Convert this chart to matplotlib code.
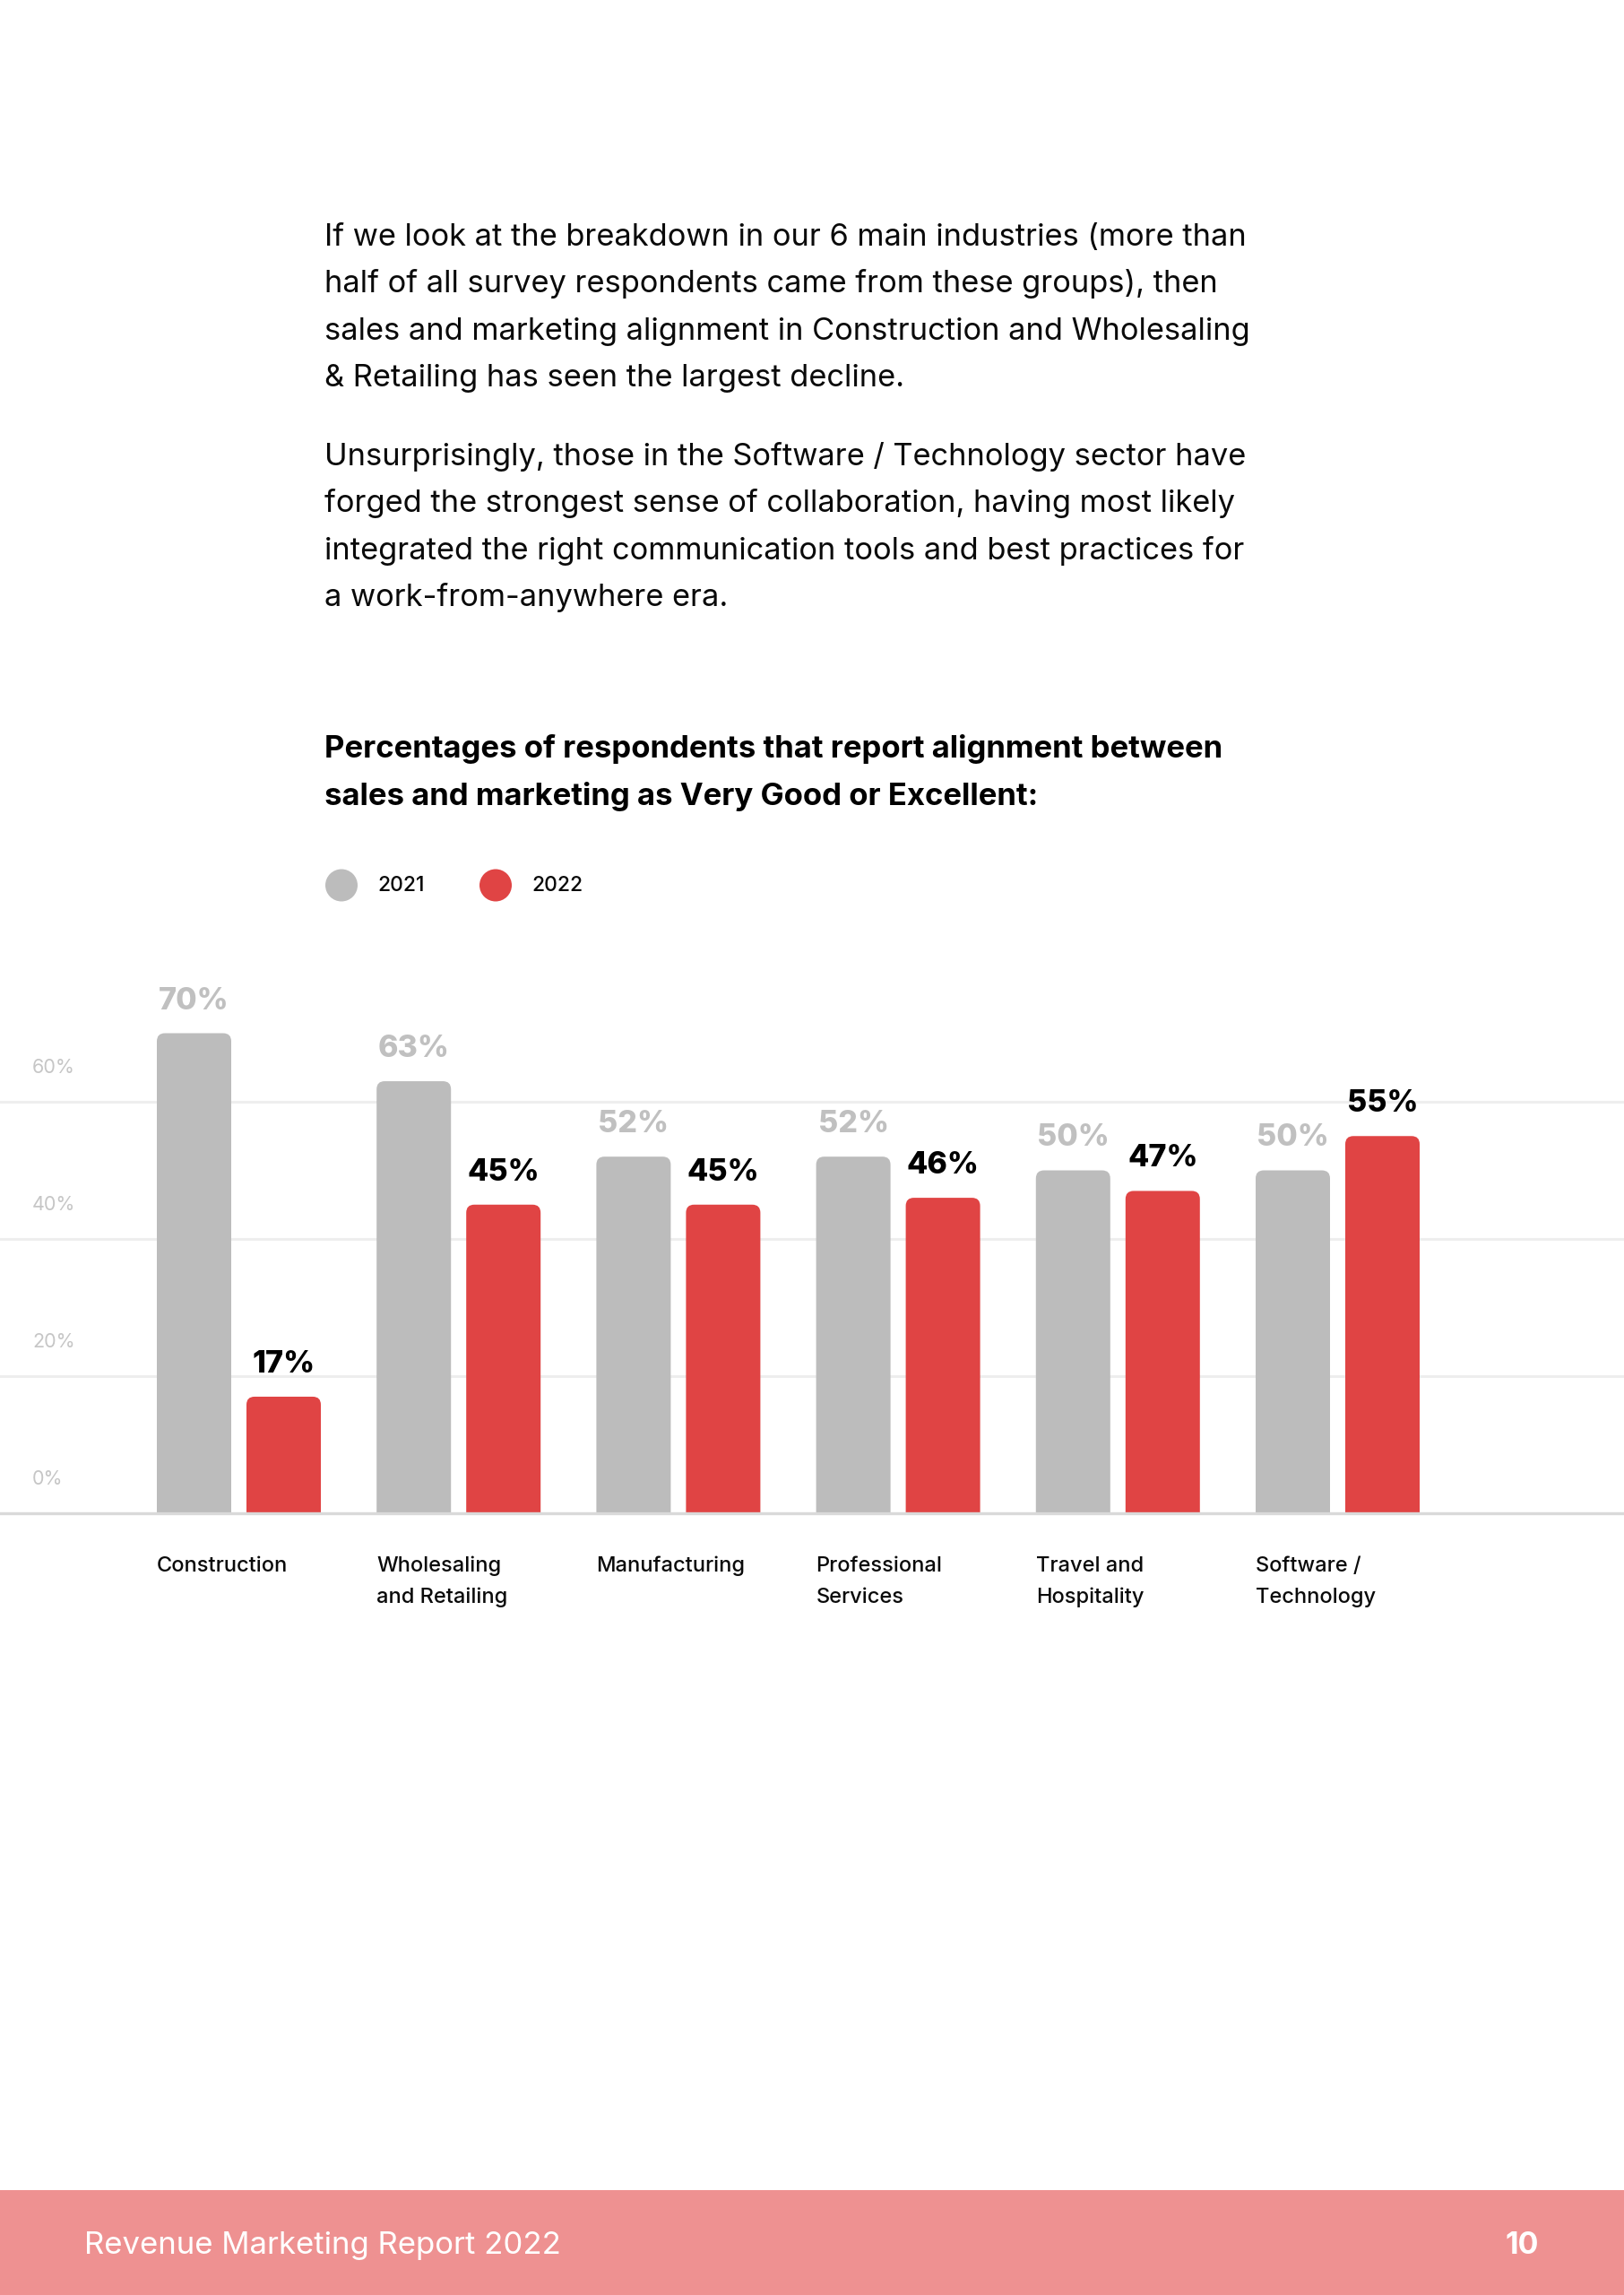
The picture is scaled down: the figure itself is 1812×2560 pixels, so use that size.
import matplotlib
matplotlib.use("Agg")
import matplotlib.pyplot as plt
from matplotlib.patches import FancyBboxPatch, Circle, Rectangle

plt.rcParams['font.family'] = ['Inter', 'DejaVu Sans']

# ---------------- data ----------------
categories = ["Construction", "Wholesaling\nand Retailing", "Manufacturing",
              "Professional\nServices", "Travel and\nHospitality", "Software /\nTechnology"]
values_2021 = [70, 63, 52, 52, 50, 50]
values_2022 = [17, 45, 45, 46, 47, 55]
series_labels = ["2021", "2022"]
ytick_values = [0, 20, 40, 60]
ytick_labels = ["0%", "20%", "40%", "60%"]

paragraph1 = ["If we look at the breakdown in our 6 main industries (more than",
              "half of all survey respondents came from these groups), then",
              "sales and marketing alignment in Construction and Wholesaling",
              "& Retailing has seen the largest decline."]
paragraph2 = ["Unsurprisingly, those in the Software / Technology sector have",
              "forged the strongest sense of collaboration, having most likely",
              "integrated the right communication tools and best practices for",
              "a work-from-anywhere era."]
heading = ["Percentages of respondents that report alignment between",
           "sales and marketing as Very Good or Excellent:"]
footer_title = "Revenue Marketing Report 2022"
page_number = "10"

GRAY = "#bcbcbc"
RED = "#e04444"
TXT = "#0a0a0a"

W, H = 1812, 2560
fig = plt.figure(figsize=(W / 100, H / 100), dpi=100)
fig.patch.set_facecolor("white")
T = fig.dpi_scale_trans


def P(x, y):
    """pixel (top-left origin) -> inches for dpi_scale_trans"""
    return x / 100, (H - y) / 100


# ---------------- text block ----------------
for lines, y0 in ((paragraph1, 274), (paragraph2, 519)):
    for k, line in enumerate(lines):
        fig.text(*P(362, y0 + 52.3 * k), line, transform=T, fontsize=24.8,
                 color=TXT, ha="left", va="baseline")

for k, line in enumerate(heading):
    fig.text(*P(362, 845 + 53 * k), line, transform=T, fontsize=25,
             fontweight="bold", color="black", ha="left", va="baseline")

# legend
for cx, tx, col, lab in ((381, 421, GRAY, series_labels[0]), (553, 593, RED, series_labels[1])):
    fig.add_artist(Circle(P(cx, 987.5), 0.18, transform=T, color=col, lw=0))
    fig.text(*P(tx, 988), lab, transform=T, fontsize=16.5, color=TXT,
             fontweight=500, ha="left", va="center")

# ---------------- chart ----------------
base_px, top_px = 1688, 1050
px_per_unit = 7.65
group_px = 245.2
center0_px = 266.5
bar_w = 83 / group_px
off = 50 / group_px

ax = fig.add_axes([0, (H - base_px) / H, 1, (base_px - top_px) / H])
ax.set_xlim(-center0_px / group_px, (W - center0_px) / group_px)
ax.set_ylim(0, (base_px - top_px) / px_per_unit)
ax.axis("off")

for v in ytick_values[1:]:
    ax.axhline(v, color="#eeeeee", lw=2.2, zorder=0)
ax.axhline(0, color="#d9d9d9", lw=2.4, zorder=3, clip_on=False)

for v, lab in zip(ytick_values, ytick_labels):
    ax.annotate(lab, xy=(36 / W, v), xycoords=("axes fraction", "data"),
                xytext=(0, 38 * 0.72), textcoords="offset points",
                fontsize=15.5, color="#c6c6c6", ha="left", va="center",
                annotation_clip=False)

xs = list(range(len(categories)))
rx = 9 / group_px
ry = 9 / px_per_unit


def rounded(bars, color):
    # replace each library bar with a top-rounded version of the same geometry
    for rect in bars:
        x0, w, h = rect.get_x(), rect.get_width(), rect.get_height()
        p = FancyBboxPatch((x0, -3 * ry), w, h + 3 * ry,
                           boxstyle=f"round,pad=0,rounding_size={rx}",
                           mutation_aspect=ry / rx, fc=color, ec="none", zorder=2)
        ax.add_patch(p)
        rect.set_visible(False)


b1 = ax.bar([x - off for x in xs], values_2021, width=bar_w, color=GRAY, lw=0, zorder=2)
b2 = ax.bar([x + off for x in xs], values_2022, width=bar_w, color=RED, lw=0, zorder=2)
rounded(b1, GRAY)
rounded(b2, RED)

for x, v in zip(xs, values_2021):
    ax.annotate(f"{v}%", xy=(x - off, v), xytext=(0, 36 * 0.72), textcoords="offset points",
                ha="center", va="center", fontsize=24.5, fontweight=800, color="#c0c0c0",
                annotation_clip=False)
for x, v in zip(xs, values_2022):
    ax.annotate(f"{v}%", xy=(x + off, v), xytext=(0, 36 * 0.72), textcoords="offset points",
                ha="center", va="center", fontsize=24.5, fontweight=800, color="black",
                annotation_clip=False)

for x, cat in zip(xs, categories):
    for k, line in enumerate(cat.split("\n")):
        ax.annotate(line, xy=(x - off - bar_w / 2, 0),
                    xytext=(0, -(65 + 35 * k) * 0.72), textcoords="offset points",
                    ha="left", va="baseline", fontsize=17, color=TXT, fontweight=500,
                    annotation_clip=False)

# ---------------- footer ----------------
fig.add_artist(Rectangle(P(0, H), W / 100, (H - 2443) / 100, transform=T,
                         color="#ee9191", lw=0))
fig.text(*P(94, 2505), footer_title, transform=T, fontsize=25, color="white",
         ha="left", va="center")
fig.text(*P(1717, 2505), page_number, transform=T, fontsize=24.5, color="white",
         fontweight="bold", ha="right", va="center")

fig.savefig("out.png", dpi=100, facecolor="white")
